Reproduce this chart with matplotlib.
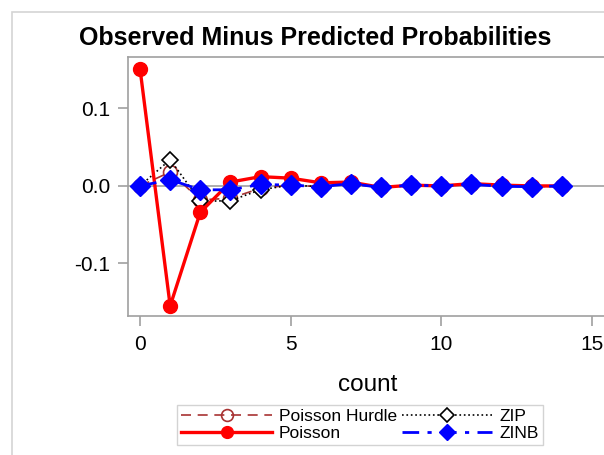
import matplotlib

matplotlib.use("Agg")
import matplotlib.pyplot as plt
from matplotlib.patches import Rectangle

counts = list(range(15))

# observed minus predicted probability per count, one list per model
poisson = [0.151, -0.155, -0.034, 0.005, 0.012, 0.010, 0.004, 0.005,
           -0.002, 0.001, 0.0, 0.003, 0.001, 0.0, 0.0]
hurdle = [0.0, 0.018, -0.018, -0.016, -0.003, 0.001, -0.001, 0.003,
          -0.002, 0.001, 0.0, 0.002, 0.0, -0.001, 0.0]
zip_model = [0.0, 0.034, -0.020, -0.019, -0.005, 0.001, -0.001, 0.003,
             -0.002, 0.001, 0.0, 0.002, 0.0, -0.001, 0.0]
zinb = [0.0, 0.008, -0.005, -0.005, 0.002, 0.001, -0.001, 0.003,
        -0.002, 0.001, 0.0, 0.002, -0.0005, -0.001, 0.0]

xticks = [0, 5, 10, 15]
yticks = [-0.1, 0.0, 0.1]
ytick_labels = ["-0.1", "0.0", "0.1"]

plt.rcParams["font.family"] = ["Liberation Sans", "DejaVu Sans"]

W, H = 604, 455
fig = plt.figure(figsize=(W / 100, H / 100), dpi=100)
fig.patch.set_facecolor("white")

# light outer frame of the graph area
fig.add_artist(Rectangle((12 / W, -0.1), 1.2, 1.1 - 12 / H,
                         transform=fig.transFigure, fill=False,
                         edgecolor="#d4d4d4", lw=1.2))

ax = fig.add_axes([128 / W, (H - 316) / H, (607 - 128) / W, (316 - 57) / H])

frame = "#a0a0a0"
ax.axhline(0, color=frame, lw=1.2, zorder=1)

ax.plot(counts, hurdle, color="#a83232", ls=(0, (6, 4)), lw=1.2,
        marker="o", ms=10, mfc="none", mec="#a83232", mew=1.2,
        label="Poisson Hurdle", zorder=3)
ax.plot(counts, zip_model, color="black", ls=":", lw=1.2,
        marker="D", ms=8, mfc="white", mec="black", mew=1.2,
        label="ZIP", zorder=3)
ax.plot(counts, poisson, color="#ff0000", ls="-", lw=2.4,
        marker="o", ms=10, mfc="#ff0000", mec="#ff0000",
        label="Poisson", zorder=4)
ax.plot(counts, zinb, color="#0000ff", ls=(0, (6, 3, 1.5, 3)), lw=2.0,
        marker="D", ms=10, mfc="#0000ff", mec="#0000ff",
        label="ZINB", zorder=5)

ax.set_xlim(-0.4, 15.5)
ax.set_ylim(-0.168, 0.1665)
ax.set_xticks(xticks)
ax.set_yticks(yticks)
ax.set_yticklabels(ytick_labels)
for s in ax.spines.values():
    s.set_color(frame)
    s.set_linewidth(1.2)
ax.tick_params(colors=frame, labelcolor="black", length=7, width=1.2,
               labelsize=15)
ax.tick_params(axis="x", pad=7)
ax.tick_params(axis="y", pad=6)
ax.set_xlabel("count", fontsize=17.5)
ax.xaxis.set_label_coords(0.5, (316 - 385) / 259)
ax.xaxis.label.set_verticalalignment("center")

fig.text(315 / W, (H - 38) / H, "Observed Minus Predicted Probabilities",
         ha="center", va="center", fontsize=18, fontweight="bold")

handles, labels = ax.get_legend_handles_labels()
order = [0, 2, 1, 3]
leg = fig.legend([handles[i] for i in order], [labels[i] for i in order],
                 ncol=2, loc="center", bbox_to_anchor=(360 / W, (H - 425) / H),
                 fontsize=12.5, frameon=True, fancybox=False, handlelength=5.2,
                 columnspacing=0.3, handletextpad=0.4, labelspacing=0.1,
                 borderpad=0.25, markerscale=0.85)
leg.get_frame().set_edgecolor("#c8c8c8")
leg.get_frame().set_linewidth(1.0)

fig.savefig("out.png", dpi=100)
